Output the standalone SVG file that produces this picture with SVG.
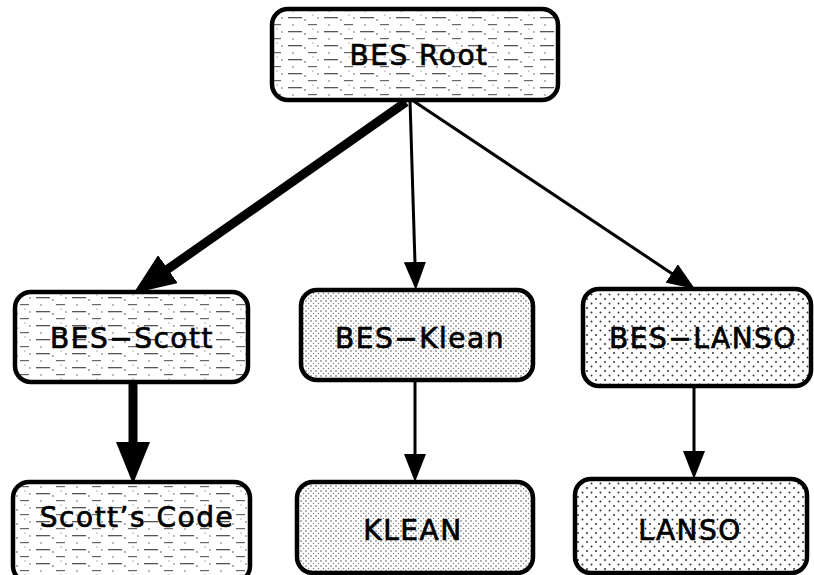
<svg xmlns="http://www.w3.org/2000/svg" width="814" height="575" viewBox="0 0 814 575">
<style>
.box{stroke:#000;stroke-width:4.5}
.lbl{font-family:"DejaVu Sans","Liberation Sans",sans-serif;font-size:28px;letter-spacing:1.5px;fill:#000;stroke:#000;stroke-width:0.7px;text-anchor:middle}
.thin{stroke:#000;stroke-width:3;fill:none}
.thick{stroke:#000;stroke-width:9;fill:none}
</style>
<defs>
<pattern id="streak" width="36" height="14" patternUnits="userSpaceOnUse">
<rect width="36" height="14" fill="#fff"/>
<rect x="0" y="3" width="14" height="1.3" fill="#555"/>
<rect x="20" y="10" width="9" height="1.2" fill="#666"/>
<circle cx="17" cy="6" r="0.8" fill="#444"/>
<circle cx="5" cy="11" r="0.7" fill="#444"/>
<circle cx="30" cy="4" r="0.7" fill="#444"/>
<circle cx="25" cy="1" r="0.6" fill="#555"/>
</pattern>
<pattern id="dense" width="5" height="5" patternUnits="userSpaceOnUse">
<rect width="5" height="5" fill="#fff"/>
<circle cx="1" cy="1" r="0.8" fill="#555"/>
<circle cx="3.5" cy="3.5" r="0.7" fill="#777"/>
</pattern>
<pattern id="sparse" width="9" height="9" patternUnits="userSpaceOnUse">
<rect width="9" height="9" fill="#fff"/>
<circle cx="2" cy="2" r="1" fill="#333"/>
<circle cx="6.5" cy="6.5" r="1" fill="#333"/>
</pattern>
<marker id="ahThin" markerUnits="userSpaceOnUse" markerWidth="28" markerHeight="22" refX="18" refY="11" orient="auto">
<path d="M0,0 L28,11 L0,22 Z" fill="#000"/>
</marker>
<marker id="ahThick" markerUnits="userSpaceOnUse" markerWidth="42" markerHeight="34" refX="30" refY="17" orient="auto">
<path d="M0,0 L42,17 L0,34 Z" fill="#000"/>
</marker>
</defs>
<g id="connectors">
<line class="thick" x1="406" y1="102" x2="143.3" y2="286.3" marker-end="url(#ahThick)"/>
<line class="thin" x1="410" y1="100" x2="415.5" y2="280" marker-end="url(#ahThin)"/>
<line class="thin" x1="412" y1="100" x2="686.7" y2="283.4" marker-end="url(#ahThin)"/>
<line class="thick" x1="133" y1="382" x2="133" y2="472" marker-end="url(#ahThick)"/>
<line class="thin" x1="415" y1="380" x2="415" y2="472" marker-end="url(#ahThin)"/>
<line class="thin" x1="694" y1="386" x2="694" y2="469" marker-end="url(#ahThin)"/>
</g>
<g id="root">
<rect class="box" x="272" y="9" width="286" height="91" rx="16" fill="url(#streak)"/>
<text class="lbl" x="419" y="65">BES Root</text>
</g>
<g id="bes-scott">
<rect class="box" x="15" y="292" width="233" height="90" rx="16" fill="url(#streak)"/>
<text class="lbl" x="132" y="348">BES−Scott</text>
</g>
<g id="bes-klean">
<rect class="box" x="301" y="290" width="232" height="90" rx="16" fill="url(#dense)"/>
<text class="lbl" x="420" y="348">BES−Klean</text>
</g>
<g id="bes-lanso">
<rect class="box" x="583" y="289" width="228" height="97" rx="16" fill="url(#sparse)"/>
<text class="lbl" x="703" y="348">BES−LANSO</text>
</g>
<g id="scotts-code">
<rect class="box" x="13" y="482" width="237" height="100" rx="16" fill="url(#streak)"/>
<text class="lbl" x="137" y="527">Scott’s Code</text>
</g>
<g id="klean">
<rect class="box" x="297" y="482" width="236" height="91" rx="16" fill="url(#dense)"/>
<text class="lbl" x="413" y="540">KLEAN</text>
</g>
<g id="lanso">
<rect class="box" x="575" y="479" width="232" height="94" rx="16" fill="url(#sparse)"/>
<text class="lbl" x="690" y="540">LANSO</text>
</g>
</svg>
